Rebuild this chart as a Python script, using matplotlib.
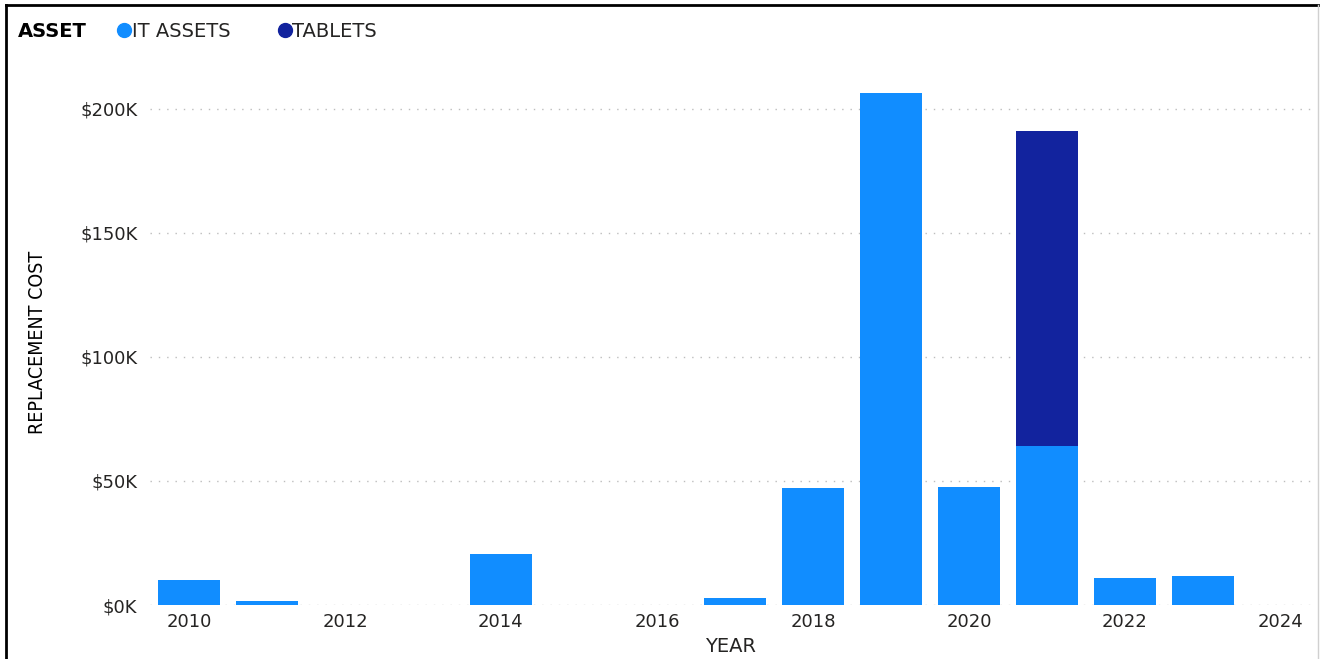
import matplotlib
matplotlib.use("Agg")
import matplotlib.pyplot as plt
from matplotlib.lines import Line2D
from matplotlib.ticker import FuncFormatter

# replacement cost per year, split by asset type
years = [2010, 2011, 2014, 2017, 2018, 2019, 2020, 2021, 2022, 2023]
it_assets = [10100, 1600, 20600, 2800, 47200, 206500, 47600, 64100, 10900, 11700]
tablets = [0, 0, 0, 0, 0, 0, 0, 127000, 0, 0]

it_color = "#118DFF"
tablet_color = "#12239E"
text_color = "#252423"

plt.rcParams["font.family"] = ["DejaVu Sans"]

fig = plt.figure(figsize=(13.2, 6.59), dpi=100)
ax = fig.add_axes([0.1136, 0.0819, 0.8804, 0.798])

ax.bar(years, it_assets, width=0.8, color=it_color, zorder=3)
ax.bar(years, tablets, width=0.8, bottom=it_assets, color=tablet_color, zorder=3)

ax.set_xlim(2009.5, 2024.4)
ax.set_ylim(0, 212000)
ax.set_xticks(range(2010, 2025, 2))
ax.set_yticks(range(0, 200001, 50000))
ax.yaxis.set_major_formatter(FuncFormatter(lambda v, p: f"${v / 1000:.0f}K"))
ax.tick_params(axis="both", length=0, labelsize=13, colors=text_color)
ax.tick_params(axis="y", pad=9)
ax.tick_params(axis="x", pad=6)

ax.grid(axis="y", color="#BDBDBD", linestyle=(0, (1, 5)), linewidth=1, zorder=0)
for s in ax.spines.values():
    s.set_visible(False)

ax.set_xlabel("YEAR", fontsize=14, color=text_color, labelpad=4)
ax.set_ylabel("REPLACEMENT COST", fontsize=14, color="black",
              fontstretch="condensed", labelpad=24)

# legend row
fig.text(0.0136, 0.952, "ASSET", fontsize=14, fontweight="bold", color="black", va="center")
handles = [Line2D([], [], marker="o", linestyle="", markersize=10, color=it_color),
           Line2D([], [], marker="o", linestyle="", markersize=10, color=tablet_color)]
fig.legend(handles, ["IT ASSETS", "TABLETS"], loc="center left", bbox_to_anchor=(0.085, 0.952),
           ncol=2, frameon=False, fontsize=14, handletextpad=-0.2, columnspacing=2.2,
           handlelength=1.2, labelcolor=text_color, borderaxespad=0, borderpad=0)

# outer frame
fig.add_artist(Line2D([0.0045, 0.9985], [0.9924, 0.9924], transform=fig.transFigure, color="black", lw=2))
fig.add_artist(Line2D([0.0045, 0.0045], [0.0, 0.9924], transform=fig.transFigure, color="black", lw=2))
fig.add_artist(Line2D([0.9985, 0.9985], [0.0, 0.9924], transform=fig.transFigure, color="#D0D0D0", lw=1))

fig.savefig("out.png", dpi=100)
